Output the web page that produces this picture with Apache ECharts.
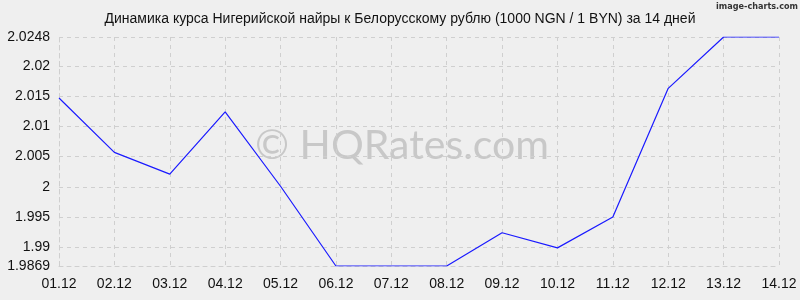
<!DOCTYPE html>
<html><head><meta charset="utf-8">
<script src="https://cdn.jsdelivr.net/npm/echarts@6/dist/echarts.min.js"></script>
<style>html,body{margin:0;padding:0;background:#efefef}#c{width:800px;height:300px}</style>
</head><body><div id="c"></div>
<script>
const titleText = 'Динамика курса Нигерийской найры к Белорусскому рублю (1000 NGN / 1 BYN) за 14 дней';
const categories = ['01.12','02.12','03.12','04.12','05.12','06.12','07.12','08.12','09.12','10.12','11.12','12.12','13.12','14.12'];
const rates = [2.0147, 2.0057, 2.0021, 2.0124, 2.0001, 1.9869, 1.9869, 1.9869, 1.9924, 1.9899, 1.9950, 2.0163, 2.0248, 2.0248];
const yTicks = [1.9869, 1.99, 1.995, 2, 2.005, 2.01, 2.015, 2.02, 2.0248];
const yMin = 1.9869, yMax = 2.0248;

const chart = echarts.init(document.getElementById('c'));
const dash = {color:'#cfcfcf', type:[4,4], width:1};
chart.setOption({
  backgroundColor:'#efefef',
  animation:false,
  title:{text:titleText, left:'center', top:7,
    textStyle:{fontFamily:'Liberation Sans', fontSize:14, fontWeight:'normal', color:'#111'}},
  graphic:[
    {type:'text', left:255, top:125, silent:true, z:0,
      style:{text:'© HQRates.com', font:'41px Lato', fill:'#c8c8c8'}},
    {type:'text', right:2, top:2, silent:true,
      style:{text:'image-charts.com', font:'bold 9px "DejaVu Sans Condensed"', fill:'#333'}}
  ],
  grid:{left:59, right:21, top:37, bottom:34, containLabel:false},
  xAxis:{type:'category', data:categories, boundaryGap:false,
    axisLine:{show:true, lineStyle:dash},
    axisTick:{show:false},
    axisLabel:{fontFamily:'Liberation Sans', fontSize:14, color:'#111', margin:11, interval:0},
    splitLine:{show:true, lineStyle:dash}},
  yAxis:{type:'value', min:yMin, max:yMax,
    axisLine:{show:true, lineStyle:dash},
    axisTick:{show:false, customValues:yTicks},
    axisLabel:{customValues:yTicks, fontFamily:'Liberation Sans', fontSize:14, color:'#111', margin:9,
      formatter:v=>String(+v.toFixed(4))},
    splitLine:{show:true, lineStyle:dash}},
  series:[{type:'line', data:rates, showSymbol:false, symbol:'none',
    lineStyle:{color:'#1a1aff', width:1.2}, z:5}]
});
</script></body></html>
